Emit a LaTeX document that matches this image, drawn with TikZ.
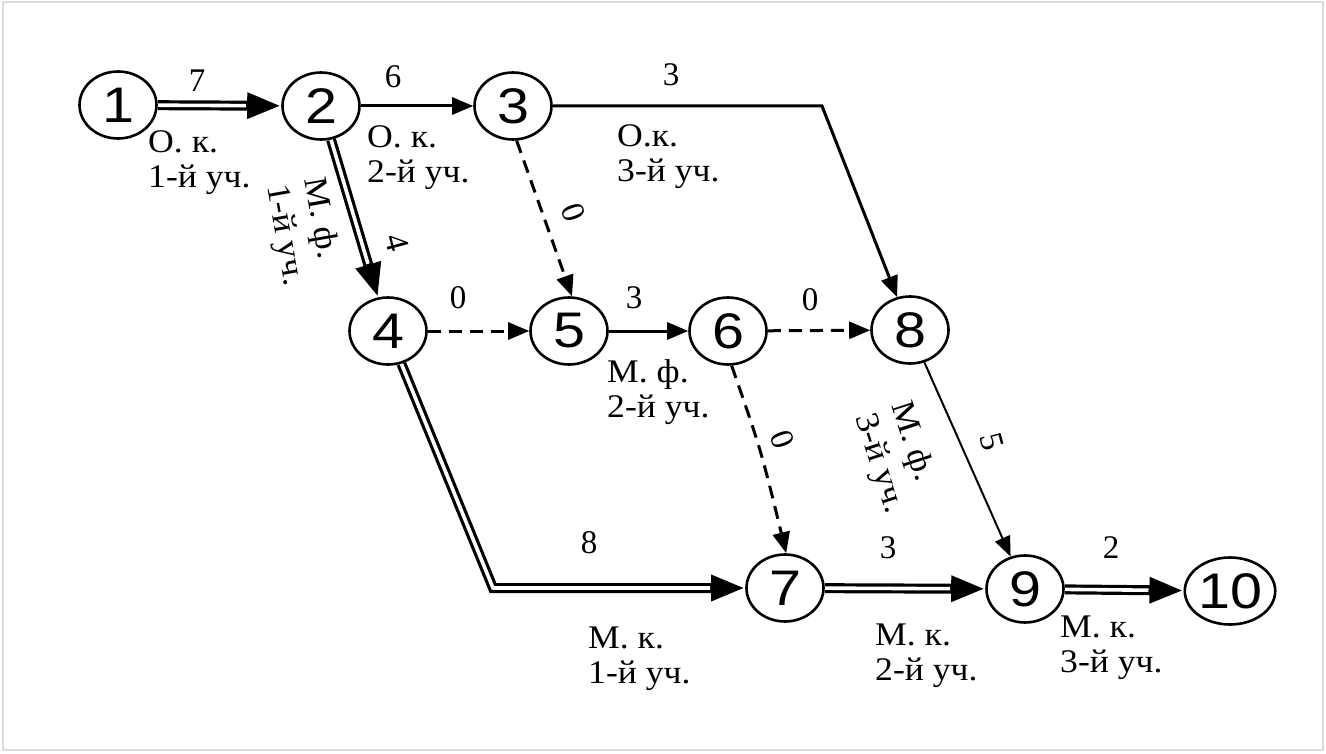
\documentclass[tikz,border=0pt]{standalone}
\usepackage{fontspec}
\setmainfont{Liberation Serif}
\newfontfamily\numfont{Liberation Sans}
\usetikzlibrary{shapes.geometric,arrows.meta,calc}
\pgfdeclarelayer{bg}
\pgfsetlayers{bg,main}
\newcommand\evnum[1]{\scalebox{1.15}[1]{#1}}
\newcommand\twol[2]{\scalebox{1.08}[1]{\begin{tabular}[t]{@{}l@{}}#1\\#2\end{tabular}}}
\newcommand\twoc[2]{\scalebox{1.08}[1]{\begin{tabular}{@{}l@{}}#1\\[3pt]#2\end{tabular}}}
\begin{document}
\begin{tikzpicture}[x=1pt,y=-1pt,
  ev/.style={draw, line width=2.6pt, ellipse, minimum width=77pt, minimum height=67pt,
             inner sep=0pt, fill=white, font=\numfont\fontsize{50}{50}\selectfont},
  lbl/.style={inner sep=0pt, font=\fontsize{33}{35}\selectfont},
  sgl/.style={line width=3pt, -{Triangle[length=21pt,width=17pt]}},
  thinarr/.style={line width=2pt, -{Triangle[length=20pt,width=16pt]}},
  dsh/.style={line width=3pt, dash pattern=on 13pt off 8pt, -{Triangle[length=21pt,width=17pt]}},
  dblout/.style={line width=10pt, line join=miter, -{Triangle[length=34pt,width=24pt]}},
  dblin/.style={white, line width=3.6pt, line join=miter, shorten >=35pt},
]
\useasboundingbox (0,0) rectangle (1326,754);
\draw[black!14, line width=1.5pt] (3,2) rectangle (1323,750);

% events
\node[ev] (1)  at (118,105)  {\evnum{1}};
\node[ev] (2)  at (321,106)  {\evnum{2}};
\node[ev] (3)  at (513,106)  {\evnum{3}};
\node[ev] (4)  at (388,331)  {\evnum{4}};
\node[ev] (5)  at (569,331)  {\evnum{5}};
\node[ev] (6)  at (728,331)  {\evnum{6}};
\node[ev] (8)  at (910,330)  {\evnum{8}};
\node[ev] (7)  at (785,588)  {\evnum{7}};
\node[ev] (9)  at (1025,589) {\evnum{9}};
\node[ev] (10) at (1230,591) {\evnum{10}};

\coordinate (c38) at (822,106);
\coordinate (c47) at (493,588);
\coordinate (c67) at (761,450);

\begin{pgfonlayer}{bg}
  \draw[dblout] (1) -- (2);  \draw[dblin] (1) -- (2);
  \draw[sgl] (2) -- (3);
  \draw[sgl] (3) -- (c38) -- (8);
  \draw[dblout] (2) -- (4);  \draw[dblin] (2) -- (4);
  \draw[dsh] (3.276) -- (5.85);
  \draw[dsh] (4) -- (5);
  \draw[sgl] (5) -- (6);
  \draw[dsh] (6) -- (8);
  \draw[dsh] (6.276) .. controls (c67) .. (7.88);
  \draw[thinarr] (8) -- (9);
  \draw[dblout] (4) -- (c47) -- (7);  \draw[dblin] (4) -- (c47) -- (7);
  \draw[dblout] (7) -- (9);  \draw[dblin] (7) -- (9);
  \draw[dblout] (9) -- (10); \draw[dblin] (9) -- (10);
\end{pgfonlayer}

% durations
\node[lbl] (d12) at (197,81) {7};
\node[lbl] (d23) at (393,77) {6};
\node[lbl] (d38) at (671,75) {3};
\node[lbl, rotate=-75] (d24) at (397,243) {4};
\node[lbl, rotate=-70] (d35) at (573,213) {0};
\node[lbl] (d45) at (458,298) {0};
\node[lbl] (d56) at (634,298) {3};
\node[lbl] (d68) at (810,300) {0};
\node[lbl, rotate=-70] (d67) at (782,440) {0};
\node[lbl, rotate=-75] (d89) at (992,442) {5};
\node[lbl] (d47) at (589,543) {8};
\node[lbl] (d79) at (888,548) {3};
\node[lbl] (d910) at (1111,548) {2};

% work names
\node[lbl, anchor=base west] (n12) at (148,153) {\twol{О. к.}{1-й уч.}};
\node[lbl, anchor=base west] (n23) at (367,148) {\twol{О. к.}{2-й уч.}};
\node[lbl, anchor=base west] (n38) at (617,147) {\twol{О.к.}{3-й уч.}};
\node[lbl, anchor=base west] (n56) at (607,382) {\twol{М. ф.}{2-й уч.}};
\node[lbl, anchor=base west] (n47) at (588,648) {\twol{М. к.}{1-й уч.}};
\node[lbl, anchor=base west] (n79) at (875,645) {\twol{М. к.}{2-й уч.}};
\node[lbl, anchor=base west] (n910) at (1060,637) {\twol{М. к.}{3-й уч.}};
\node[lbl, rotate=-80] (n24) at (302,232) {\twoc{М. ф.}{1-й уч.}};
\node[lbl, rotate=-72] (n89) at (896,458) {\twoc{М. ф.}{3-й уч.}};
\end{tikzpicture}
\end{document}
